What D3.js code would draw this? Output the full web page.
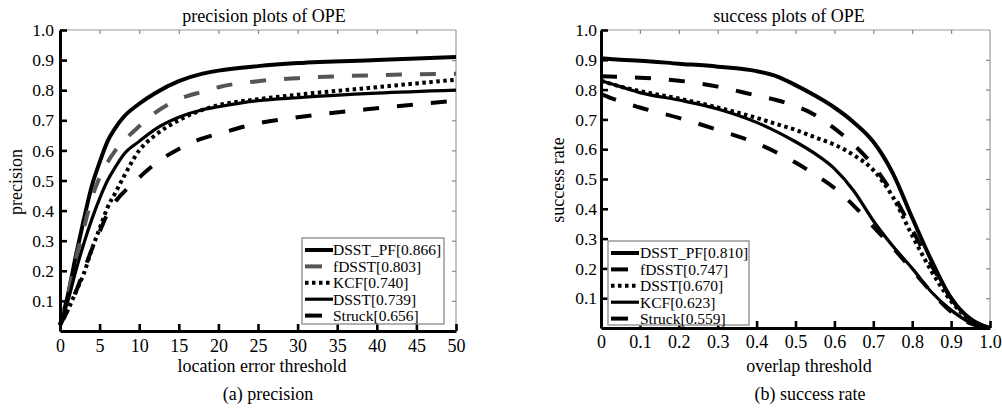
<!DOCTYPE html>
<html>
<head>
<meta charset="utf-8">
<script src="https://cdn.jsdelivr.net/npm/d3@7"></script>
<style>
  body { margin: 0; background: #fff; }
  svg text { font-family: "Liberation Serif", "Times New Roman", serif; fill: #000; }
</style>
</head>
<body>
<svg id="chart" width="1002" height="408"></svg>
<script>
// precision plot data (location error threshold in px)
const errorThresholds = [0, 1, 2, 3, 4, 5, 6, 7, 8, 10, 12, 15, 18, 20, 25, 30, 40, 50];
const precDsstPf = [0.02, 0.12, 0.25, 0.37, 0.48, 0.56, 0.63, 0.675, 0.71, 0.755, 0.79, 0.83, 0.855, 0.865, 0.88, 0.89, 0.90, 0.91];
const precFdsst  = [0.02, 0.12, 0.24, 0.34, 0.44, 0.51, 0.56, 0.60, 0.63, 0.68, 0.725, 0.77, 0.795, 0.81, 0.83, 0.84, 0.85, 0.855];
const precKcf    = [0.02, 0.07, 0.13, 0.19, 0.27, 0.34, 0.41, 0.46, 0.51, 0.60, 0.65, 0.70, 0.735, 0.75, 0.77, 0.785, 0.81, 0.835];
const precDsst   = [0.02, 0.10, 0.20, 0.29, 0.37, 0.44, 0.50, 0.545, 0.585, 0.63, 0.67, 0.71, 0.735, 0.745, 0.765, 0.775, 0.79, 0.80];
const precStruck = [0.02, 0.07, 0.13, 0.20, 0.27, 0.33, 0.39, 0.43, 0.46, 0.51, 0.555, 0.605, 0.64, 0.655, 0.69, 0.71, 0.74, 0.765];
const precLabels = ['DSST_PF[0.866]', 'fDSST[0.803]', 'KCF[0.740]', 'DSST[0.739]', 'Struck[0.656]'];

// success plot data (overlap threshold)
const overlapThresholds = [0, 0.05, 0.1, 0.2, 0.3, 0.4, 0.45, 0.5, 0.55, 0.6, 0.65, 0.7, 0.75, 0.8, 0.85, 0.9, 0.95, 1.0];
const succDsstPf = [0.905, 0.90, 0.897, 0.887, 0.877, 0.862, 0.845, 0.815, 0.78, 0.74, 0.69, 0.625, 0.52, 0.37, 0.225, 0.10, 0.03, 0];
const succFdsst  = [0.845, 0.843, 0.84, 0.83, 0.81, 0.78, 0.765, 0.745, 0.715, 0.67, 0.615, 0.545, 0.45, 0.33, 0.21, 0.10, 0.03, 0];
const succDsst   = [0.83, 0.81, 0.795, 0.77, 0.74, 0.705, 0.685, 0.665, 0.64, 0.615, 0.58, 0.53, 0.44, 0.31, 0.19, 0.09, 0.025, 0];
const succKcf    = [0.83, 0.81, 0.79, 0.765, 0.735, 0.69, 0.66, 0.625, 0.585, 0.535, 0.46, 0.36, 0.275, 0.20, 0.12, 0.06, 0.018, 0];
const succStruck = [0.785, 0.76, 0.74, 0.705, 0.665, 0.62, 0.59, 0.555, 0.515, 0.47, 0.41, 0.34, 0.27, 0.195, 0.12, 0.055, 0.015, 0];
const succLabels = ['DSST_PF[0.810]', 'fDSST[0.747]', 'DSST[0.670]', 'KCF[0.623]', 'Struck[0.559]'];

const yTicks = [0.1, 0.2, 0.3, 0.4, 0.5, 0.6, 0.7, 0.8, 0.9, 1.0];
const precXTicks = [0, 5, 10, 15, 20, 25, 30, 35, 40, 45, 50];
const succXTicks = [0, 0.1, 0.2, 0.3, 0.4, 0.5, 0.6, 0.7, 0.8, 0.9, 1.0];

const styles = {
  solid:  { color: '#000', width: 4, dash: null, sample: 28 },
  solidT: { color: '#000', width: 3.2, dash: null, sample: 28 },
  gray:   { color: '#555', width: 4, dash: '16,18', sample: 17 },
  dashed: { color: '#000', width: 4, dash: '16,18', sample: 17 },
  dotted: { color: '#000', width: 4, dash: '3.5,3.5', sample: 26 }
};

const serif = '"Liberation Serif", "Times New Roman", serif';
const svg = d3.select('#chart');

function drawPanel(cfg) {
  const x = d3.scaleLinear().domain(cfg.xDomain).range([cfg.left, cfg.right]);
  const y = d3.scaleLinear().domain([0, 1]).range([cfg.bottom, cfg.top]);
  const g = svg.append('g');

  // thin gray box (top / right) with small inward ticks
  g.append('line').attr('x1', cfg.left).attr('x2', cfg.right).attr('y1', cfg.top).attr('y2', cfg.top)
    .attr('stroke', '#999').attr('stroke-width', 1.2);
  g.append('line').attr('x1', cfg.right).attr('x2', cfg.right).attr('y1', cfg.top).attr('y2', cfg.bottom)
    .attr('stroke', '#999').attr('stroke-width', 1.2);

  const topAxis = d3.axisTop(x).tickValues(cfg.xTicks.slice(1, -1)).tickSize(-4).tickSizeOuter(0).tickFormat('');
  g.append('g').attr('transform', `translate(0,${cfg.top})`).call(topAxis)
    .call(a => a.select('.domain').remove())
    .call(a => a.selectAll('line').attr('stroke', '#888').attr('stroke-width', 1.2));

  const rightAxis = d3.axisRight(y).tickValues(yTicks.slice(0, -1)).tickSize(-4).tickSizeOuter(0).tickFormat('');
  g.append('g').attr('transform', `translate(${cfg.right},0)`).call(rightAxis)
    .call(a => a.select('.domain').remove())
    .call(a => a.selectAll('line').attr('stroke', '#888').attr('stroke-width', 1.2));

  // curves
  const line = d3.line()
    .x(d => x(d[0]))
    .y(d => y(d[1]))
    .curve(d3.curveMonotoneX);

  cfg.series.forEach(s => {
    const st = styles[s.style];
    g.append('path')
      .datum(cfg.xs.map((v, i) => [v, s.values[i]]))
      .attr('fill', 'none')
      .attr('stroke', st.color)
      .attr('stroke-width', st.width)
      .attr('stroke-dasharray', st.dash)
      .attr('d', line);
  });

  // thick black bottom / left axes with inward ticks
  const bottomAxis = d3.axisBottom(x).tickValues(cfg.xTicks).tickSize(-7).tickSizeOuter(0)
    .tickFormat(cfg.xFormat);
  g.append('g').attr('transform', `translate(0,${cfg.bottom})`).call(bottomAxis)
    .call(a => a.select('.domain').attr('stroke', '#000').attr('stroke-width', 3))
    .call(a => a.selectAll('.tick line').attr('stroke', '#000').attr('stroke-width', 2.6))
    .call(a => a.selectAll('text').attr('y', cfg.xLabelGap).attr('dy', null)
      .style('font-size', '18px').style('font-family', serif).attr('fill', '#000'));

  const leftAxis = d3.axisLeft(y).tickValues(yTicks).tickSize(-7).tickSizeOuter(0).tickFormat(d3.format('.1f'));
  g.append('g').attr('transform', `translate(${cfg.left},0)`).call(leftAxis)
    .call(a => a.select('.domain').attr('stroke', '#000').attr('stroke-width', 3))
    .call(a => a.selectAll('.tick line').attr('stroke', '#000').attr('stroke-width', 2.6))
    .call(a => a.selectAll('text').attr('x', -cfg.yLabelGap)
      .style('font-size', '17.5px').style('font-family', serif).attr('fill', '#000'));

  // titles and labels
  g.append('text').attr('x', cfg.titleX).attr('y', 22).attr('text-anchor', 'middle')
    .style('font-size', '18px').text(cfg.title);
  g.append('text').attr('x', cfg.xLabelX).attr('y', 372).attr('text-anchor', 'middle')
    .style('font-size', '18px').text(cfg.xLabel);
  g.append('text').attr('transform', `translate(${cfg.yLabelX},${cfg.yLabelY}) rotate(-90)`)
    .attr('text-anchor', 'middle').style('font-size', '18px').text(cfg.yLabel);
  g.append('text').attr('x', cfg.captionX).attr('y', 400).attr('text-anchor', 'middle')
    .style('font-size', '18px').text(cfg.caption);

  // legend
  const lg = g.append('g').attr('transform', `translate(${cfg.legend.x},${cfg.legend.y})`);
  lg.append('rect').attr('width', cfg.legend.w).attr('height', cfg.legend.h)
    .attr('fill', '#fff').attr('stroke', '#999').attr('stroke-width', 1.5);
  cfg.series.forEach((s, i) => {
    const st = styles[s.style];
    const ry = 12 + i * 16.4;
    lg.append('line').attr('x1', 3).attr('x2', 3 + st.sample).attr('y1', ry).attr('y2', ry)
      .attr('stroke', st.color).attr('stroke-width', st.width)
      .attr('stroke-dasharray', s.style === 'dotted' ? st.dash : null);
    lg.append('text').attr('x', cfg.legend.textX).attr('y', ry).attr('dy', '0.35em')
      .style('font-size', '15.5px').text(s.label);
  });
}

drawPanel({
  left: 60, right: 456, top: 30, bottom: 331,
  xDomain: [0, 50], xTicks: precXTicks, xFormat: d3.format('d'), xs: errorThresholds,
  yLabelGap: 6, xLabelGap: 21,
  title: 'precision plots of OPE', titleX: 264,
  xLabel: 'location error threshold', xLabelX: 262,
  yLabel: 'precision', yLabelX: 22, yLabelY: 182,
  caption: '(a) precision', captionX: 268,
  legend: { x: 302, y: 238, w: 142, h: 86, textX: 31 },
  series: [
    { label: precLabels[0], values: precDsstPf, style: 'solid' },
    { label: precLabels[1], values: precFdsst, style: 'gray' },
    { label: precLabels[2], values: precKcf, style: 'dotted' },
    { label: precLabels[3], values: precDsst, style: 'solidT' },
    { label: precLabels[4], values: precStruck, style: 'dashed' }
  ]
});

drawPanel({
  left: 601, right: 990, top: 30, bottom: 328,
  xDomain: [0, 1], xTicks: succXTicks, xFormat: d => d === 0 ? '0' : d3.format('.1f')(d), xs: overlapThresholds,
  yLabelGap: 4, xLabelGap: 20,
  title: 'success plots of OPE', titleX: 789,
  xLabel: 'overlap threshold', xLabelX: 809,
  yLabel: 'success rate', yLabelX: 564, yLabelY: 180,
  caption: '(b) success rate', captionX: 810,
  legend: { x: 608, y: 241, w: 141, h: 84, textX: 32 },
  series: [
    { label: succLabels[0], values: succDsstPf, style: 'solid' },
    { label: succLabels[1], values: succFdsst, style: 'dashed' },
    { label: succLabels[2], values: succDsst, style: 'dotted' },
    { label: succLabels[3], values: succKcf, style: 'solidT' },
    { label: succLabels[4], values: succStruck, style: 'dashed' }
  ]
});
</script>
</body>
</html>
